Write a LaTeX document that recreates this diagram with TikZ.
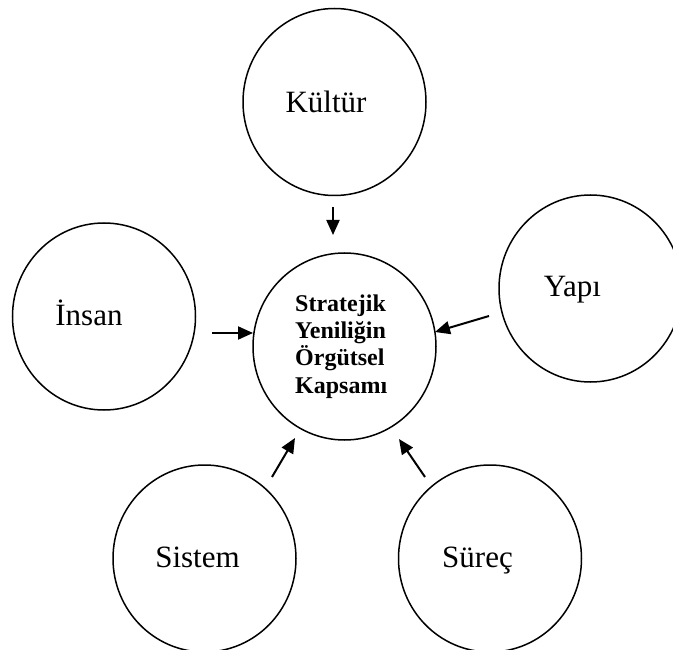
\documentclass[tikz,border=0pt]{standalone}
\usepackage{fontspec}
\setmainfont{Liberation Serif}
\usetikzlibrary{shapes.geometric,arrows.meta}
\begin{document}
\begin{tikzpicture}[x=1pt,y=-1pt,
  circ/.style={draw,ellipse,line width=1.5pt,minimum width=183pt,minimum height=187pt,inner sep=0pt},
  lbl/.style={anchor=base,inner sep=0pt,font=\fontsize{31}{37}\selectfont},
  corelbl/.style={anchor=base west,inner sep=0pt,align=left,font=\fontsize{24}{27.3}\selectfont\bfseries},
  arr/.style={line width=2pt,-{Triangle[length=15pt,width=13pt]}}]
\useasboundingbox (0,0) rectangle (673,650);
\clip (0,0) rectangle (673,650);
% circles
\node[circ] (kultur) at (334.5,102) {};
\node[circ] (insan)  at (104,316.5) {};
\node[circ] (core)   at (344.5,346.5) {};
\node[circ] (yapi)   at (590.5,288.5) {};
\node[circ] (sistem) at (204.5,558.5) {};
\node[circ] (surec)  at (490,558.5) {};
% labels
\node[lbl] (tkultur) at (326,113) {Kültür};
\node[lbl] (tinsan)  at (89,326) {İnsan};
\node[lbl] (tyapi)   at (572.5,297) {Yapı};
\node[lbl] (tsistem) at (197.5,567) {Sistem};
\node[lbl] (tsurec)  at (477.5,567) {Süreç};
% the base anchor of a multi-line node sits on its last line
\node[corelbl] (tcore) at (295,393) {Stratejik\\Yeniliğin\\Örgütsel\\Kapsamı};
% arrow end points
\coordinate (k1) at (333,207);  \coordinate (k2) at (333,235);
\coordinate (i1) at (212,333);  \coordinate (i2) at (253,333);
\coordinate (y1) at (489,316);  \coordinate (y2) at (435,332);
\coordinate (s1) at (272,477);  \coordinate (s2) at (295,438);
\coordinate (r1) at (425,477);  \coordinate (r2) at (399,439);
% arrows
\draw[arr] (k1) -- (k2);
\draw[arr] (i1) -- (i2);
\draw[arr] (y1) -- (y2);
\draw[arr] (s1) -- (s2);
\draw[arr] (r1) -- (r2);
\end{tikzpicture}
\end{document}
